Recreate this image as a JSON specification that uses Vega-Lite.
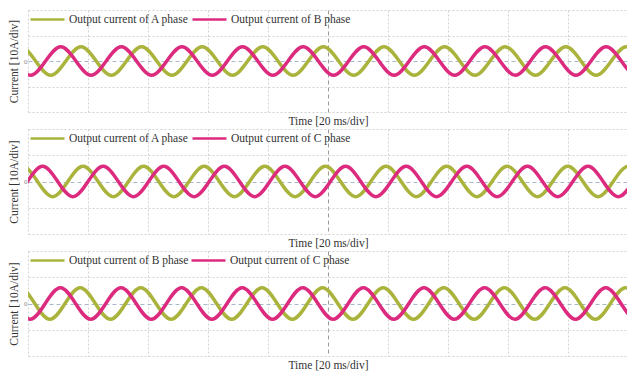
{
  "$schema": "https://vega.github.io/schema/vega-lite/v6.json",
  "background": "white",
  "padding": {"left": 8, "top": 1, "right": 0, "bottom": 0},
  "spacing": 17,
  "bounds": "flush",
  "datasets": {
    "p1a": [{"t":-7.58,"i":0},{"t":-2.53,"i":5.6},{"t":2.52,"i":0},{"t":7.57,"i":-5.6},{"t":12.62,"i":0},{"t":17.67,"i":5.6},{"t":22.72,"i":0},{"t":27.77,"i":-5.6},{"t":32.82,"i":0},{"t":37.87,"i":5.6},{"t":42.92,"i":0},{"t":47.97,"i":-5.6},{"t":53.02,"i":0},{"t":58.07,"i":5.6},{"t":63.12,"i":0},{"t":68.17,"i":-5.6},{"t":73.22,"i":0},{"t":78.27,"i":5.6},{"t":83.32,"i":0},{"t":88.37,"i":-5.6},{"t":93.42,"i":0},{"t":98.47,"i":5.6},{"t":103.52,"i":0},{"t":108.57,"i":-5.6},{"t":113.62,"i":0},{"t":118.67,"i":5.6},{"t":123.72,"i":0},{"t":128.77,"i":-5.6},{"t":133.82,"i":0},{"t":138.87,"i":5.6},{"t":143.92,"i":0},{"t":148.97,"i":-5.6},{"t":154.02,"i":0},{"t":159.07,"i":5.6},{"t":164.12,"i":0},{"t":169.17,"i":-5.6},{"t":174.22,"i":0},{"t":179.27,"i":5.6},{"t":184.32,"i":0},{"t":189.37,"i":-5.6},{"t":194.42,"i":0},{"t":199.47,"i":5.6},{"t":204.52,"i":0}],
    "p1b": [{"t":-4.23,"i":0},{"t":0.82,"i":-5.6},{"t":5.87,"i":0},{"t":10.92,"i":5.6},{"t":15.97,"i":0},{"t":21.02,"i":-5.6},{"t":26.07,"i":0},{"t":31.12,"i":5.6},{"t":36.17,"i":0},{"t":41.22,"i":-5.6},{"t":46.27,"i":0},{"t":51.32,"i":5.6},{"t":56.37,"i":0},{"t":61.42,"i":-5.6},{"t":66.47,"i":0},{"t":71.52,"i":5.6},{"t":76.57,"i":0},{"t":81.62,"i":-5.6},{"t":86.67,"i":0},{"t":91.72,"i":5.6},{"t":96.77,"i":0},{"t":101.82,"i":-5.6},{"t":106.87,"i":0},{"t":111.92,"i":5.6},{"t":116.97,"i":0},{"t":122.02,"i":-5.6},{"t":127.07,"i":0},{"t":132.12,"i":5.6},{"t":137.17,"i":0},{"t":142.22,"i":-5.6},{"t":147.27,"i":0},{"t":152.32,"i":5.6},{"t":157.37,"i":0},{"t":162.42,"i":-5.6},{"t":167.47,"i":0},{"t":172.52,"i":5.6},{"t":177.57,"i":0},{"t":182.62,"i":-5.6},{"t":187.67,"i":0},{"t":192.72,"i":5.6},{"t":197.77,"i":0},{"t":202.82,"i":-5.6},{"t":207.87,"i":0}],
    "p2a": [{"t":-6.92,"i":0},{"t":-1.87,"i":5.8},{"t":3.18,"i":0},{"t":8.23,"i":-5.8},{"t":13.28,"i":0},{"t":18.33,"i":5.8},{"t":23.38,"i":0},{"t":28.43,"i":-5.8},{"t":33.48,"i":0},{"t":38.53,"i":5.8},{"t":43.58,"i":0},{"t":48.63,"i":-5.8},{"t":53.68,"i":0},{"t":58.73,"i":5.8},{"t":63.78,"i":0},{"t":68.83,"i":-5.8},{"t":73.88,"i":0},{"t":78.93,"i":5.8},{"t":83.98,"i":0},{"t":89.03,"i":-5.8},{"t":94.08,"i":0},{"t":99.13,"i":5.8},{"t":104.18,"i":0},{"t":109.23,"i":-5.8},{"t":114.28,"i":0},{"t":119.33,"i":5.8},{"t":124.38,"i":0},{"t":129.43,"i":-5.8},{"t":134.48,"i":0},{"t":139.53,"i":5.8},{"t":144.58,"i":0},{"t":149.63,"i":-5.8},{"t":154.68,"i":0},{"t":159.73,"i":5.8},{"t":164.78,"i":0},{"t":169.83,"i":-5.8},{"t":174.88,"i":0},{"t":179.93,"i":5.8},{"t":184.98,"i":0},{"t":190.03,"i":-5.8},{"t":195.08,"i":0},{"t":200.13,"i":5.8},{"t":205.18,"i":0}],
    "p2c": [{"t":-10.29,"i":0},{"t":-5.24,"i":-5.8},{"t":-0.19,"i":0},{"t":4.86,"i":5.8},{"t":9.91,"i":0},{"t":14.96,"i":-5.8},{"t":20.01,"i":0},{"t":25.06,"i":5.8},{"t":30.11,"i":0},{"t":35.16,"i":-5.8},{"t":40.21,"i":0},{"t":45.26,"i":5.8},{"t":50.31,"i":0},{"t":55.36,"i":-5.8},{"t":60.41,"i":0},{"t":65.46,"i":5.8},{"t":70.51,"i":0},{"t":75.56,"i":-5.8},{"t":80.61,"i":0},{"t":85.66,"i":5.8},{"t":90.71,"i":0},{"t":95.76,"i":-5.8},{"t":100.81,"i":0},{"t":105.86,"i":5.8},{"t":110.91,"i":0},{"t":115.96,"i":-5.8},{"t":121.01,"i":0},{"t":126.06,"i":5.8},{"t":131.11,"i":0},{"t":136.16,"i":-5.8},{"t":141.21,"i":0},{"t":146.26,"i":5.8},{"t":151.31,"i":0},{"t":156.36,"i":-5.8},{"t":161.41,"i":0},{"t":166.46,"i":5.8},{"t":171.51,"i":0},{"t":176.56,"i":-5.8},{"t":181.61,"i":0},{"t":186.66,"i":5.8},{"t":191.71,"i":0},{"t":196.76,"i":-5.8},{"t":201.81,"i":0}],
    "p3b": [{"t":-7.85,"i":0},{"t":-2.8,"i":6},{"t":2.25,"i":0},{"t":7.3,"i":-6},{"t":12.35,"i":0},{"t":17.4,"i":6},{"t":22.45,"i":0},{"t":27.5,"i":-6},{"t":32.55,"i":0},{"t":37.6,"i":6},{"t":42.65,"i":0},{"t":47.7,"i":-6},{"t":52.75,"i":0},{"t":57.8,"i":6},{"t":62.85,"i":0},{"t":67.9,"i":-6},{"t":72.95,"i":0},{"t":78,"i":6},{"t":83.05,"i":0},{"t":88.1,"i":-6},{"t":93.15,"i":0},{"t":98.2,"i":6},{"t":103.25,"i":0},{"t":108.3,"i":-6},{"t":113.35,"i":0},{"t":118.4,"i":6},{"t":123.45,"i":0},{"t":128.5,"i":-6},{"t":133.55,"i":0},{"t":138.6,"i":6},{"t":143.65,"i":0},{"t":148.7,"i":-6},{"t":153.75,"i":0},{"t":158.8,"i":6},{"t":163.85,"i":0},{"t":168.9,"i":-6},{"t":173.95,"i":0},{"t":179,"i":6},{"t":184.05,"i":0},{"t":189.1,"i":-6},{"t":194.15,"i":0},{"t":199.2,"i":6},{"t":204.25,"i":0}],
    "p3c": [{"t":-4.35,"i":0},{"t":0.7,"i":-6},{"t":5.75,"i":0},{"t":10.8,"i":6},{"t":15.85,"i":0},{"t":20.9,"i":-6},{"t":25.95,"i":0},{"t":31,"i":6},{"t":36.05,"i":0},{"t":41.1,"i":-6},{"t":46.15,"i":0},{"t":51.2,"i":6},{"t":56.25,"i":0},{"t":61.3,"i":-6},{"t":66.35,"i":0},{"t":71.4,"i":6},{"t":76.45,"i":0},{"t":81.5,"i":-6},{"t":86.55,"i":0},{"t":91.6,"i":6},{"t":96.65,"i":0},{"t":101.7,"i":-6},{"t":106.75,"i":0},{"t":111.8,"i":6},{"t":116.85,"i":0},{"t":121.9,"i":-6},{"t":126.95,"i":0},{"t":132,"i":6},{"t":137.05,"i":0},{"t":142.1,"i":-6},{"t":147.15,"i":0},{"t":152.2,"i":6},{"t":157.25,"i":0},{"t":162.3,"i":-6},{"t":167.35,"i":0},{"t":172.4,"i":6},{"t":177.45,"i":0},{"t":182.5,"i":-6},{"t":187.55,"i":0},{"t":192.6,"i":6},{"t":197.65,"i":0},{"t":202.7,"i":-6},{"t":207.75,"i":0}]
  },
  "vconcat": [
    {
      "width": 600, "height": 102,
      "encoding": {
        "x": {"field": "t", "type": "quantitative", "title": "Time [20 ms/div]", "scale": {"domain": [0, 200], "nice": false, "zero": false},
              "axis": {"values": [0,20,40,60,80,100,120,140,160,180,200], "labels": false,
                       "gridDash": {"condition": {"test": "datum.value === 100", "value": [4, 3]}, "value": [2, 2]},
                       "gridColor": {"condition": {"test": "datum.value === 100", "value": "#9a9a9a"}, "value": "#d2d2d2"}}},
        "y": {"field": "i", "type": "quantitative", "title": "Current [10A/div]", "scale": {"domain": [-20, 20], "nice": false},
              "axis": {"values": [-20,-10,0,10,20], "labelExpr": "datum.value === 0 ? '0' : ''",
                       "gridDash": {"condition": {"test": "datum.value === 0", "value": [4, 3]}, "value": [2, 2]},
                       "gridColor": {"condition": {"test": "datum.value === 0", "value": "#a8b8c8"}, "value": "#d2d2d2"}}}
      },
      "layer": [
        {"data": {"name": "p1a"}, "mark": {"type": "line", "interpolate": "natural", "strokeWidth": 3.4, "clip": true},
         "encoding": {"color": {"datum": "Output current of A phase", "type": "nominal",
                                "scale": {"domain": ["Output current of A phase", "Output current of B phase"], "range": ["#aab43c", "#dc2b7e"]},
                                "legend": {"orient": "none", "legendX": 1, "legendY": -9}}}},
        {"data": {"name": "p1b"}, "mark": {"type": "line", "interpolate": "natural", "strokeWidth": 3.4, "clip": true},
         "encoding": {"color": {"datum": "Output current of B phase", "type": "nominal"}}}
      ]
    },
    {
      "width": 600, "height": 105,
      "encoding": {
        "x": {"field": "t", "type": "quantitative", "title": "Time [20 ms/div]", "scale": {"domain": [0, 200], "nice": false, "zero": false},
              "axis": {"values": [0,20,40,60,80,100,120,140,160,180,200], "labels": false,
                       "gridDash": {"condition": {"test": "datum.value === 100", "value": [4, 3]}, "value": [2, 2]},
                       "gridColor": {"condition": {"test": "datum.value === 100", "value": "#9a9a9a"}, "value": "#d2d2d2"}}},
        "y": {"field": "i", "type": "quantitative", "title": "Current [10A/div]", "scale": {"domain": [-20, 20], "nice": false},
              "axis": {"values": [-20,-10,0,10,20], "labelExpr": "datum.value === 0 ? '0' : ''",
                       "gridDash": {"condition": {"test": "datum.value === 0", "value": [4, 3]}, "value": [2, 2]},
                       "gridColor": {"condition": {"test": "datum.value === 0", "value": "#a8b8c8"}, "value": "#d2d2d2"}}}
      },
      "layer": [
        {"data": {"name": "p2a"}, "mark": {"type": "line", "interpolate": "natural", "strokeWidth": 3.4, "clip": true},
         "encoding": {"color": {"datum": "Output current of A phase", "type": "nominal",
                                "scale": {"domain": ["Output current of A phase", "Output current of C phase"], "range": ["#aab43c", "#dc2b7e"]},
                                "legend": {"orient": "none", "legendX": 1, "legendY": -9}}}},
        {"data": {"name": "p2c"}, "mark": {"type": "line", "interpolate": "natural", "strokeWidth": 3.4, "clip": true},
         "encoding": {"color": {"datum": "Output current of C phase", "type": "nominal"}}}
      ]
    },
    {
      "width": 600, "height": 105,
      "encoding": {
        "x": {"field": "t", "type": "quantitative", "title": "Time [20 ms/div]", "scale": {"domain": [0, 200], "nice": false, "zero": false},
              "axis": {"values": [0,20,40,60,80,100,120,140,160,180,200], "labels": false,
                       "gridDash": {"condition": {"test": "datum.value === 100", "value": [4, 3]}, "value": [2, 2]},
                       "gridColor": {"condition": {"test": "datum.value === 100", "value": "#9a9a9a"}, "value": "#d2d2d2"}}},
        "y": {"field": "i", "type": "quantitative", "title": "Current [10A/div]", "scale": {"domain": [-20, 20], "nice": false},
              "axis": {"values": [-20,-10,0,10,20], "labelExpr": "datum.value === 0 ? '0' : ''",
                       "gridDash": {"condition": {"test": "datum.value === 0", "value": [4, 3]}, "value": [2, 2]},
                       "gridColor": {"condition": {"test": "datum.value === 0", "value": "#a8b8c8"}, "value": "#d2d2d2"}}}
      },
      "layer": [
        {"data": {"name": "p3b"}, "mark": {"type": "line", "interpolate": "natural", "strokeWidth": 3.4, "clip": true},
         "encoding": {"color": {"datum": "Output current of B phase", "type": "nominal",
                                "scale": {"domain": ["Output current of B phase", "Output current of C phase"], "range": ["#aab43c", "#dc2b7e"]},
                                "legend": {"orient": "none", "legendX": 1, "legendY": -9}}}},
        {"data": {"name": "p3c"}, "mark": {"type": "line", "interpolate": "natural", "strokeWidth": 3.4, "clip": true},
         "encoding": {"color": {"datum": "Output current of C phase", "type": "nominal"}}}
      ]
    }
  ],
  "resolve": {"scale": {"color": "independent"}, "legend": {"color": "independent"}},
  "config": {
    "font": "Liberation Serif",
    "view": {"stroke": null},
    "axis": {"domain": false, "ticks": false, "grid": true, "gridWidth": 1,
             "titleFont": "Liberation Serif", "titleFontWeight": "normal", "titleFontSize": 11.5, "titleColor": "#333",
             "labelFont": "Liberation Serif", "labelFontSize": 7, "labelColor": "#888", "labelPadding": 1},
    "axisX": {"titlePadding": 3},
    "axisY": {"titlePadding": 4},
    "legend": {"direction": "horizontal", "columns": 2, "title": null, "padding": 0,
               "symbolType": "stroke", "symbolSize": 1156, "symbolStrokeWidth": 2.5,
               "labelFont": "Liberation Serif", "labelFontSize": 11.5, "labelColor": "#333",
               "labelOffset": 3, "columnPadding": -3}
  }
}
